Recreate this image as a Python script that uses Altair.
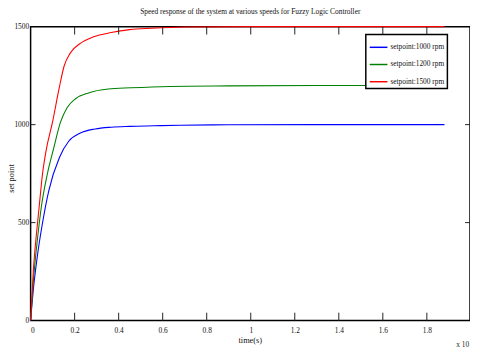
import altair as alt
import pandas as pd

chart_title = "Speed response of the system at various speeds for Fuzzy Logic Controller"
series_names = ["setpoint:1000 rpm", "setpoint:1200 rpm", "setpoint:1500 rpm"]
series_colors = ["#0000ff", "#008000", "#ff0000"]

t_1000 = [0, 0.013, 0.031, 0.054, 0.083, 0.131, 0.173, 0.226, 0.293, 0.367, 0.45, 0.56, 0.68, 0.9, 1.3, 1.88]
v_1000 = [0, 165, 332, 498, 665, 832, 915, 957, 978, 987, 991, 994, 997, 999, 1000, 1000]

t_1200 = [0, 0.016, 0.031, 0.049, 0.076, 0.105, 0.135, 0.165, 0.204, 0.263, 0.353, 0.455, 0.63, 0.9, 1.3, 1.88]
v_1200 = [0, 248, 415, 582, 748, 880, 1010, 1085, 1132, 1162, 1182, 1188, 1195, 1198, 1200, 1200]

t_1500 = [0, 0.012, 0.027, 0.039, 0.054, 0.07, 0.1, 0.129, 0.152, 0.18, 0.226, 0.286, 0.366, 0.45, 0.55, 0.7, 1.0, 1.88]
v_1500 = [0, 248, 448, 582, 748, 865, 1015, 1182, 1298, 1365, 1415, 1448, 1470, 1485, 1492, 1498, 1500, 1500]

x_ticks = [0, 0.2, 0.4, 0.6, 0.8, 1.0, 1.2, 1.4, 1.6, 1.8]
y_ticks = [0, 500, 1000, 1500]
x_label = "time(s)"
y_label = "set point"
exponent_note = "x 10"

rows = []
for name, ts, vs in zip(series_names, [t_1000, t_1200, t_1500], [v_1000, v_1200, v_1500]):
    for i, (t, v) in enumerate(zip(ts, vs)):
        rows.append({"series": name, "t": t, "v": v, "i": i})
df = pd.DataFrame(rows)

W, H = 447, 299
FONT = "Liberation Serif"
xscale = alt.Scale(domain=[0, 1.996], nice=False, zero=False)
yscale = alt.Scale(domain=[0, 1500], nice=False)

x_axis = alt.Axis(values=x_ticks, format="~g", title=x_label,
                  titleX=223, titleY=19, titleAlign="center", titleBaseline="middle")
y_axis = alt.Axis(values=y_ticks, format="d", title=y_label,
                  titleX=-17, titleY=154, titleAngle=270,
                  titleAlign="center", titleBaseline="alphabetic")

lines = alt.Chart(df).mark_line(strokeWidth=1.1, interpolate="monotone").encode(
    x=alt.X("t:Q", scale=xscale, axis=x_axis),
    y=alt.Y("v:Q", scale=yscale, axis=y_axis),
    color=alt.Color("series:N", scale=alt.Scale(domain=series_names, range=series_colors),
                    legend=alt.Legend(title=None, orient="none", legendX=341, legendY=8,
                                      symbolType="stroke", symbolSize=324, symbolStrokeWidth=1.5,
                                      labelFont=FONT, labelFontSize=7.5, labelColor="#111",
                                      padding=3, rowPadding=3.5, labelOffset=2,
                                      strokeColor="black", fillColor="white")),
    order="i:Q",
)

xt = pd.DataFrame({"t": x_ticks[1:]})
yt = pd.DataFrame({"v": y_ticks[1:-1]})

bottom_ticks = alt.Chart(xt).mark_rule(color="#222", strokeWidth=1).encode(
    x=alt.X("t:Q", scale=xscale, axis=x_axis), y=alt.value(H), y2=alt.value(H - 8))
top_ticks = alt.Chart(xt).mark_rule(color="#222", strokeWidth=1).encode(
    x=alt.X("t:Q", scale=xscale, axis=x_axis), y=alt.value(0), y2=alt.value(8))
left_ticks = alt.Chart(yt).mark_rule(color="#222", strokeWidth=1).encode(
    y=alt.Y("v:Q", scale=yscale, axis=y_axis), x=alt.value(0), x2=alt.value(5))
right_ticks = alt.Chart(yt).mark_rule(color="#222", strokeWidth=1).encode(
    y=alt.Y("v:Q", scale=yscale, axis=y_axis), x=alt.value(W - 5), x2=alt.value(W))

note = alt.Chart(pd.DataFrame({"s": [exponent_note]})).mark_text(
    align="left", baseline="middle", font=FONT, fontSize=7.5, color="#222").encode(
    x=alt.value(433), y=alt.value(324), text="s:N")

chart = alt.layer(lines, bottom_ticks, top_ticks, left_ticks, right_ticks, note).properties(
    width=W, height=H,
    title=alt.TitleParams(chart_title, font=FONT, fontSize=7.5, fontWeight="normal",
                          anchor="middle", offset=7, color="#111"),
    padding={"left": 23, "top": 16, "right": 0, "bottom": 30},
    autosize=alt.AutoSizeParams(type="none"),
).configure_view(stroke="black", strokeWidth=1.5).configure_axis(
    domain=False, ticks=False, grid=False,
    labelFont=FONT, labelFontSize=7.5, labelColor="#111",
    titleFont=FONT, titleFontSize=8.5, titleFontWeight="normal", titleColor="#111",
).configure_axisX(labelPadding=6).configure_axisY(labelPadding=2).configure_legend(strokeWidth=1.5)

chart.save("out.html", embed_options={"renderer": "svg", "actions": False})
